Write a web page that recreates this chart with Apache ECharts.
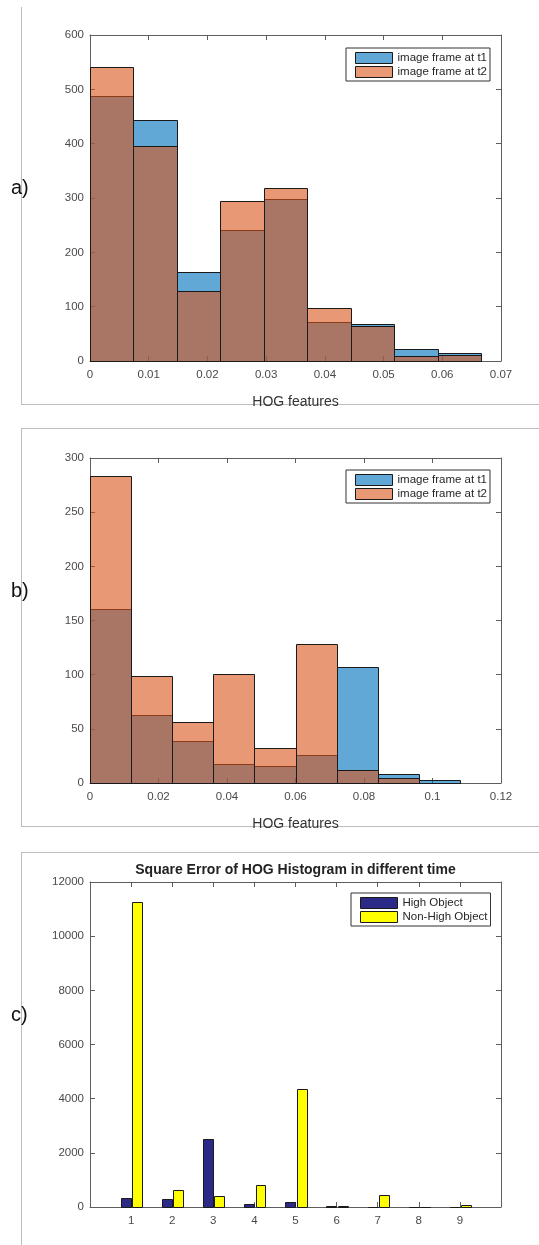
<!DOCTYPE html>
<html>
<head>
<meta charset="utf-8">
<script src="https://cdn.jsdelivr.net/npm/echarts@6/dist/echarts.min.js"></script>
<style>
html,body{margin:0;padding:0;background:#fff;}
#chart{width:539px;height:1245px;}
</style>
</head>
<body>
<div id="chart"></div>
<script>
// ---------- DATA ----------
// Panel a) histogram of HOG features
const edgesA = [0, 0.0074, 0.0148, 0.0222, 0.0296, 0.037, 0.0444, 0.0518, 0.0592, 0.0666];
const t1A = [487, 444, 164, 241, 298, 72, 69, 23, 15];
const t2A = [541, 395, 128, 295, 319, 97, 65, 10, 11];
const xTicksA = [0, 0.07, 0.01];   // min, max, interval
const yTicksA = [0, 600, 100];

// Panel b) histogram of HOG features
const edgesB = [0, 0.012, 0.024, 0.036, 0.048, 0.06, 0.072, 0.084, 0.096, 0.108];
const t1B = [161, 63, 39, 18, 16, 26, 107, 8, 3];
const t2B = [283, 99, 56, 101, 32, 128, 12, 5, 0];
const xTicksB = [0, 0.12, 0.02];
const yTicksB = [0, 300, 50];

// Panel c) square error per bin
const categoriesC = [1, 2, 3, 4, 5, 6, 7, 8, 9];
const highObject = [345, 283, 2498, 110, 172, 20, 0, 0, 0];
const nonHighObject = [11249, 628, 418, 800, 4369, 20, 432, 10, 90];
const xTicksC = [0, 10, 1];
const yTicksC = [0, 12000, 2000];

const seriesNames = ['image frame at t1', 'image frame at t2'];
const seriesNamesC = ['High Object', 'Non-High Object'];
const titleC = 'Square Error of HOG Histogram in different time';
const xNameAB = 'HOG features';
const panelLabels = ['a)', 'b)', 'c)'];

// ---------- STYLE ----------
const FONT = '"Liberation Sans", Arial, sans-serif';
const AXIS_COLOR = '#5e5e5e';
const LABEL_COLOR = '#4a4a4a';
const BLUE = 'rgba(0,114,189,0.62)';
const ORANGE = 'rgba(217,83,25,0.6)';
const NAVY = '#2b2a86';
const YELLOW = '#ffff00';
const EDGE = '#1a1a1a';

const grids = [
  {left: 90, top: 35, width: 411, height: 326},
  {left: 90, top: 458, width: 411, height: 325},
  {left: 90, top: 882, width: 411, height: 325}
];

function histData(edges, vals) {
  return vals.map((v, i) => [edges[i], edges[i + 1], v]);
}
function histItem(params, api) {
  const a = api.coord([api.value(0), api.value(2)]);
  const b = api.coord([api.value(1), 0]);
  return {
    type: 'rect',
    shape: {x: Math.round(a[0]) + 0.5, y: Math.round(a[1]) + 0.5, width: Math.round(b[0]) - Math.round(a[0]), height: Math.round(b[1]) - Math.round(a[1])},
    style: {fill: api.visual('color'), stroke: EDGE, lineWidth: 1}
  };
}
function barItemFactory(offset, w) {
  return function (params, api) {
    const c = api.value(0), v = api.value(1);
    const a = api.coord([c + offset - w / 2, v]);
    const b = api.coord([c + offset + w / 2, 0]);
    return {
      type: 'rect',
      shape: {x: Math.round(a[0]) + 0.5, y: Math.round(a[1]) + 0.5, width: Math.round(b[0]) - Math.round(a[0]), height: Math.round(b[1]) - Math.round(a[1])},
      style: {fill: api.visual('color'), stroke: EDGE, lineWidth: 1}
    };
  };
}

function xAxesFor(gi, ticks, withName, labelFilter) {
  const base = {
    gridIndex: gi, type: 'value', min: ticks[0], max: ticks[1], interval: ticks[2],
    splitLine: {show: false},
    axisLine: {show: true, onZero: false, lineStyle: {color: AXIS_COLOR, width: 1}},
    axisTick: {show: true, inside: true, length: 5, lineStyle: {color: AXIS_COLOR}}
  };
  const bottom = Object.assign({}, base, {
    position: 'bottom',
    axisLabel: {show: true, color: LABEL_COLOR, fontFamily: FONT, fontSize: 11.5, margin: 8,
      showMinLabel: true, showMaxLabel: true,
      formatter: labelFilter || function (v) { return String(+v.toFixed(4)); }}
  });
  if (withName) {
    bottom.name = xNameAB;
    bottom.nameLocation = 'middle';
    bottom.nameGap = 34;
    bottom.nameTextStyle = {color: '#333', fontFamily: FONT, fontSize: 14};
  }
  const top = Object.assign({}, base, {position: 'top', axisLabel: {show: false}});
  return [bottom, top];
}
function yAxesFor(gi, ticks) {
  const base = {
    gridIndex: gi, type: 'value', min: ticks[0], max: ticks[1], interval: ticks[2],
    splitLine: {show: false},
    axisLine: {show: true, onZero: false, lineStyle: {color: AXIS_COLOR, width: 1}},
    axisTick: {show: true, inside: true, length: 5, lineStyle: {color: AXIS_COLOR}}
  };
  const left = Object.assign({}, base, {position: 'left',
    axisLabel: {show: true, color: LABEL_COLOR, fontFamily: FONT, fontSize: 11.5, margin: 6,
      formatter: function (v) { return String(v); }}});
  const right = Object.assign({}, base, {position: 'right', axisLabel: {show: false}});
  return [left, right];
}

const xAxis = [].concat(
  xAxesFor(0, xTicksA, true),
  xAxesFor(1, xTicksB, true),
  xAxesFor(2, xTicksC, false, function (v) { return (v >= 1 && v <= 9) ? String(v) : ''; })
);
const yAxis = [].concat(yAxesFor(0, yTicksA), yAxesFor(1, yTicksB), yAxesFor(2, yTicksC));

function legendFor(top, left, names) {
  return {
    orient: 'vertical', left: left, top: top,
    data: names,
    itemWidth: 37, itemHeight: 11, itemGap: 2,
    padding: [4, 3, 3, 9],
    borderColor: '#333', borderWidth: 1, backgroundColor: '#fff',
    icon: 'rect',
    itemStyle: {borderColor: EDGE, borderWidth: 1},
    textStyle: {color: '#262626', fontFamily: FONT, fontSize: 11.5},
    selectedMode: false
  };
}

// frame lines and panel labels (decoration)
const FRAME = '#bdbdbd';
function hline(y, x1, x2) { return {type: 'line', shape: {x1: x1, y1: y, x2: x2, y2: y}, style: {stroke: FRAME, lineWidth: 1}, silent: true}; }
function vline(x, y1, y2) { return {type: 'line', shape: {x1: x, y1: y1, x2: x, y2: y2}, style: {stroke: FRAME, lineWidth: 1}, silent: true}; }
function plabel(text, y) {
  return {type: 'text', left: 11, top: y - 12, style: {text: text, fill: '#111', font: '20px ' + FONT}};
}

const option = {
  backgroundColor: '#fff',
  animation: false,
  grid: grids,
  xAxis: xAxis,
  yAxis: yAxis,
  legend: [
    legendFor(48, 346, seriesNames),
    legendFor(470, 346, seriesNames),
    legendFor(893, 351, seriesNamesC)
  ],
  graphic: [
    vline(21.5, 7, 404.5), hline(404.5, 21, 539),
    hline(428.5, 21, 539), vline(21.5, 428.5, 826.5), hline(826.5, 21, 539),
    hline(852.5, 21, 539), vline(21.5, 852.5, 1245),
    plabel(panelLabels[0], 190), plabel(panelLabels[1], 593), plabel(panelLabels[2], 1017),
    {type: 'text', x: 295.5, y: 870, style: {text: titleC, fill: '#222', font: 'bold 14px ' + FONT, textAlign: 'center', textVerticalAlign: 'middle'}}
  ],
  series: [
    {name: seriesNames[0], type: 'custom', xAxisIndex: 0, yAxisIndex: 0, itemStyle: {color: BLUE}, renderItem: histItem, encode: {x: [0, 1], y: 2}, data: histData(edgesA, t1A)},
    {name: seriesNames[1], type: 'custom', xAxisIndex: 0, yAxisIndex: 0, itemStyle: {color: ORANGE}, renderItem: histItem, encode: {x: [0, 1], y: 2}, data: histData(edgesA, t2A)},
    {name: seriesNames[0], type: 'custom', xAxisIndex: 2, yAxisIndex: 2, itemStyle: {color: BLUE}, renderItem: histItem, encode: {x: [0, 1], y: 2}, data: histData(edgesB, t1B)},
    {name: seriesNames[1], type: 'custom', xAxisIndex: 2, yAxisIndex: 2, itemStyle: {color: ORANGE}, renderItem: histItem, encode: {x: [0, 1], y: 2}, data: histData(edgesB, t2B)},
    {name: seriesNamesC[0], type: 'custom', xAxisIndex: 4, yAxisIndex: 4, itemStyle: {color: NAVY}, renderItem: barItemFactory(-0.125, 0.245), encode: {x: 0, y: 1}, data: categoriesC.map((c, i) => [c, highObject[i]])},
    {name: seriesNamesC[1], type: 'custom', xAxisIndex: 4, yAxisIndex: 4, itemStyle: {color: YELLOW}, renderItem: barItemFactory(0.148, 0.24), encode: {x: 0, y: 1}, data: categoriesC.map((c, i) => [c, nonHighObject[i]])}
  ]
};

const chart = echarts.init(document.getElementById('chart'), null, {renderer: 'canvas'});
chart.setOption(option);
</script>
</body>
</html>
